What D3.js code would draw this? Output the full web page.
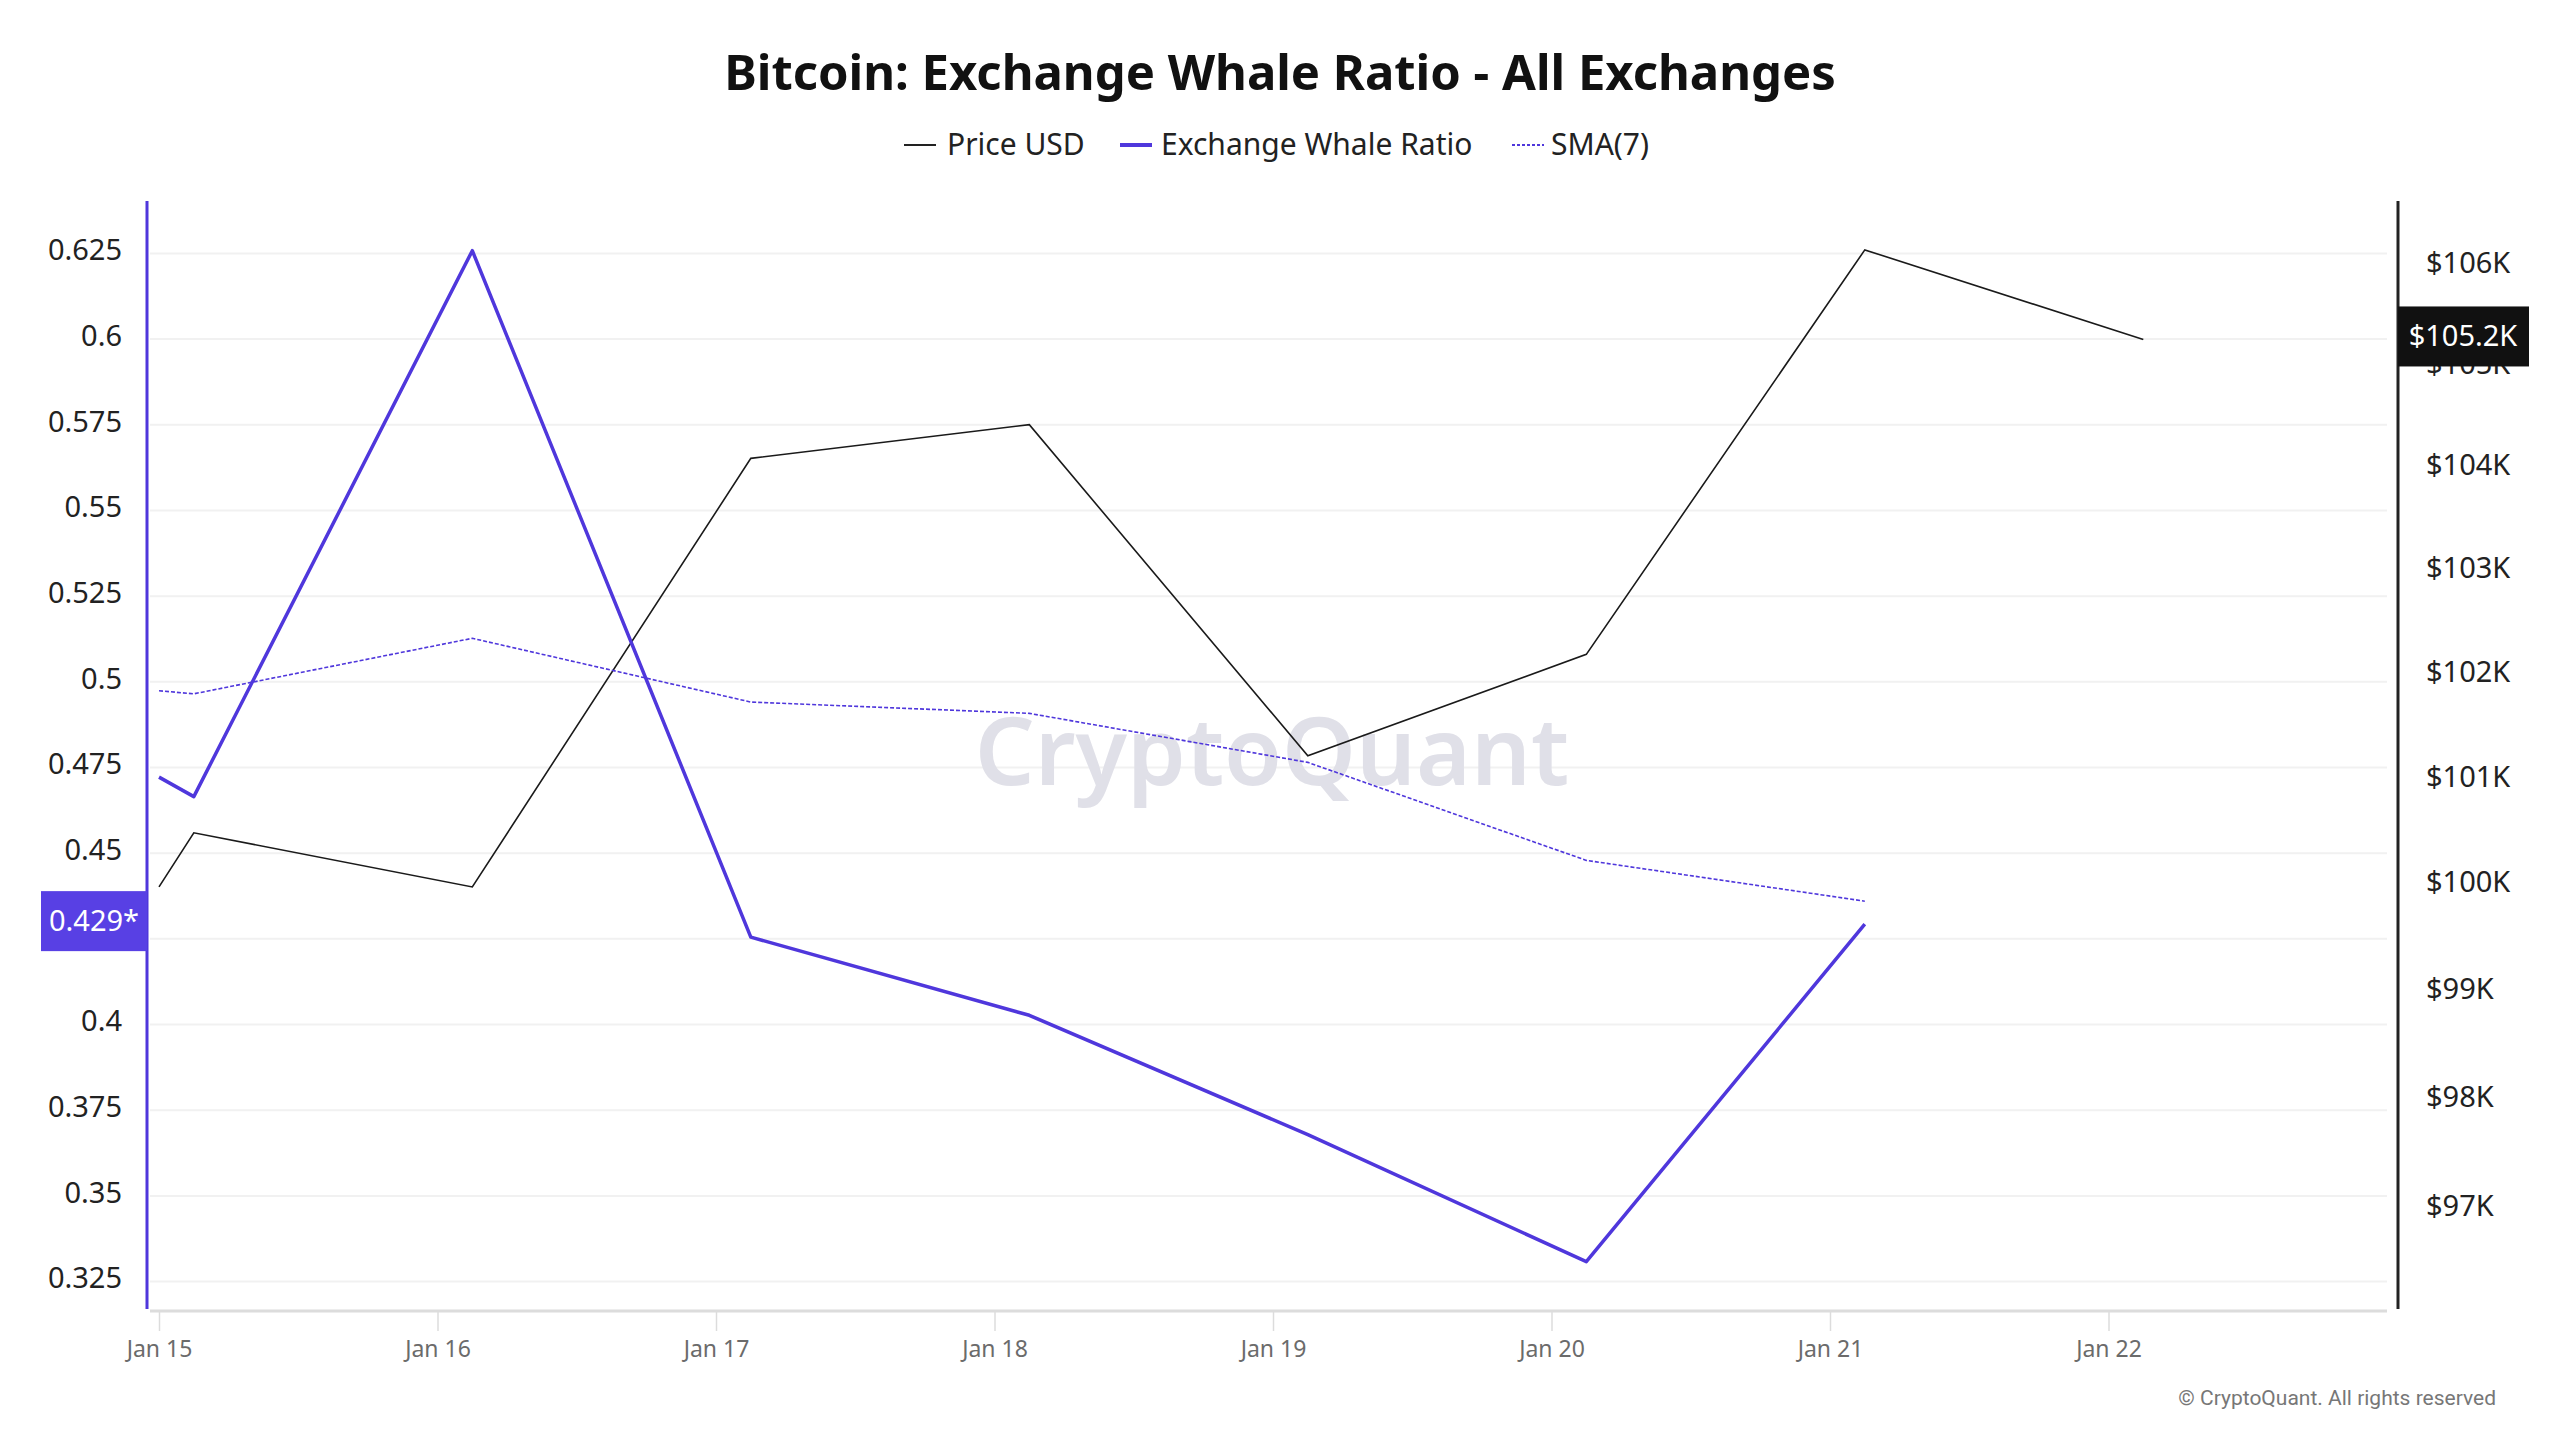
<!DOCTYPE html>
<html>
<head>
<meta charset="utf-8">
<script src="https://cdn.jsdelivr.net/npm/d3@7/dist/d3.min.js"></script>
<style>
  html, body { margin: 0; padding: 0; background: #ffffff; }
  svg { display: block; }
</style>
</head>
<body>
<script>
// ---- Data ----
const ratioDates = ["2025-01-15T00:00Z","2025-01-15T03:00Z","2025-01-16T03:00Z","2025-01-17T03:00Z","2025-01-18T03:00Z","2025-01-19T03:00Z","2025-01-20T03:00Z","2025-01-21T03:00Z"];
const whaleRatio = [0.4722, 0.4665, 0.6258, 0.4255, 0.4027, 0.3679, 0.3308, 0.4293];
const sma7 = [0.4974, 0.4965, 0.5127, 0.4941, 0.4908, 0.4765, 0.4479, 0.4360];
const priceDates = ["2025-01-15T00:00Z","2025-01-15T03:00Z","2025-01-16T03:00Z","2025-01-17T03:00Z","2025-01-18T03:00Z","2025-01-19T03:00Z","2025-01-20T03:00Z","2025-01-21T03:00Z","2025-01-22T03:00Z"];
const priceUSD = [99960, 100470, 99960, 104070, 104400, 101200, 102170, 106130, 105240];
const leftTicks = [0.325, 0.35, 0.375, 0.4, 0.425, 0.45, 0.475, 0.5, 0.525, 0.55, 0.575, 0.6, 0.625];
const leftTickLabels = ["0.325","0.35","0.375","0.4","","0.45","0.475","0.5","0.525","0.55","0.575","0.6","0.625"];
const rightTicks = [97000, 98000, 99000, 100000, 101000, 102000, 103000, 104000, 105000, 106000];
const rightTickLabels = ["$97K","$98K","$99K","$100K","$101K","$102K","$103K","$104K","$105K","$106K"];
const xTickDates = ["2025-01-15T00:00Z","2025-01-16T00:00Z","2025-01-17T00:00Z","2025-01-18T00:00Z","2025-01-19T00:00Z","2025-01-20T00:00Z","2025-01-21T00:00Z","2025-01-22T00:00Z"];
const xTickLabels = ["Jan 15","Jan 16","Jan 17","Jan 18","Jan 19","Jan 20","Jan 21","Jan 22"];
const titleText = "Bitcoin: Exchange Whale Ratio - All Exchanges";
const legendLabels = ["Price USD", "Exchange Whale Ratio", "SMA(7)"];
const lastRatioLabel = "0.429*";
const lastPriceLabel = "$105.2K";

// ---- Layout ----
const W = 2560, H = 1440;
const plot = { left: 150, right: 2387, top: 201, bottom: 1309 };
const PURPLE = "#4f37dc";
const BOX_PURPLE = "#5840e4";
const FONT = "'Noto Sans', 'Open Sans', sans-serif";

const svg = d3.select("body").append("svg").attr("width", W).attr("height", H);

const parse = d3.isoParse;
const x = d3.scaleUtc()
  .domain([parse("2025-01-15T00:00Z"), parse("2025-01-23T00:00Z")])
  .range([159, plot.right]);
const yL = d3.scaleLinear().domain([0.3170, 0.6403]).range([plot.bottom, plot.top]);
const yR = d3.scaleLog().domain([96071, 106619]).range([plot.bottom, plot.top]);

// Title
svg.append("text")
  .attr("x", W / 2).attr("y", 90)
  .attr("text-anchor", "middle")
  .attr("font-family", FONT).attr("font-weight", 700).attr("font-size", 49)
  .attr("fill", "#111").text(titleText);

// Legend
const legend = svg.append("g").attr("font-family", FONT).attr("font-size", 30).attr("fill", "#222");
const legendItems = [
  { lx: 904, tx: 947, stroke: "#222", w: 2, dash: null },
  { lx: 1120, tx: 1161, stroke: PURPLE, w: 4, dash: null },
  { lx: 1512, tx: 1551, stroke: PURPLE, w: 2, dash: "3,2" }
];
legendItems.forEach((it, i) => {
  legend.append("line").attr("x1", it.lx).attr("x2", it.lx + 32).attr("y1", 145).attr("y2", 145)
    .attr("stroke", it.stroke).attr("stroke-width", it.w).attr("stroke-dasharray", it.dash);
  legend.append("text").attr("x", it.tx).attr("y", 155).text(legendLabels[i]);
});

// Gridlines
svg.append("g").selectAll("line").data(leftTicks).join("line")
  .attr("x1", plot.left).attr("x2", plot.right)
  .attr("y1", d => yL(d)).attr("y2", d => yL(d))
  .attr("stroke", "#f1f1f1").attr("stroke-width", 2);

// Watermark
svg.append("text")
  .attr("x", 1272).attr("y", 785).attr("text-anchor", "middle")
  .attr("font-family", FONT).attr("font-weight", 600).attr("font-size", 94)
  .attr("fill", "#e0e0e8").text("CryptoQuant");

// X axis
const xAxis = d3.axisBottom(x)
  .tickValues(xTickDates.map(parse))
  .tickFormat((d, i) => xTickLabels[i])
  .tickSize(20).tickPadding(10).tickSizeOuter(0);
const gx = svg.append("g").attr("transform", `translate(0,${plot.bottom + 2})`).call(xAxis);
gx.select(".domain").attr("d", `M${plot.left},0H${plot.right}`).attr("stroke", "#dcdcdc").attr("stroke-width", 3);
gx.selectAll(".tick line").attr("stroke", "#dcdcdc").attr("stroke-width", 1.5);
gx.selectAll(".tick text").attr("font-family", FONT).attr("font-size", 23).attr("fill", "#6b6b6b");

// Left axis
const leftAxis = d3.axisLeft(yL).tickValues(leftTicks)
  .tickFormat((d, i) => leftTickLabels[i]).tickSize(0).tickPadding(25);
const gl = svg.append("g").attr("transform", `translate(147,0)`).call(leftAxis);
gl.select(".domain").attr("d", `M0,${plot.top}V${plot.bottom}`).attr("stroke", PURPLE).attr("stroke-width", 3);
gl.selectAll(".tick text").attr("font-family", FONT).attr("font-size", 29).attr("fill", "#222").attr("dy", "0.22em");

// Right axis (log scale)
const rightAxis = d3.axisRight(yR).tickValues(rightTicks)
  .tickFormat((d, i) => rightTickLabels[i]).tickSize(0).tickPadding(28);
const gr = svg.append("g").attr("transform", `translate(2398,0)`).call(rightAxis);
gr.select(".domain").attr("d", `M0,${plot.top}V${plot.bottom}`).attr("stroke", "#222").attr("stroke-width", 3);
gr.selectAll(".tick text").attr("font-family", FONT).attr("font-size", 29).attr("fill", "#222");

// Lines
const ratioPts = ratioDates.map((d, i) => ({ t: parse(d), r: whaleRatio[i], s: sma7[i] }));
const pricePts = priceDates.map((d, i) => ({ t: parse(d), p: priceUSD[i] }));

svg.append("path").datum(pricePts)
  .attr("fill", "none").attr("stroke", "#1a1a1a").attr("stroke-width", 1.6)
  .attr("d", d3.line().x(d => x(d.t)).y(d => yR(d.p)));

svg.append("path").datum(ratioPts)
  .attr("fill", "none").attr("stroke", PURPLE).attr("stroke-width", 1.6).attr("stroke-dasharray", "4,2")
  .attr("d", d3.line().x(d => x(d.t)).y(d => yL(d.s)));

svg.append("path").datum(ratioPts)
  .attr("fill", "none").attr("stroke", PURPLE).attr("stroke-width", 3.5).attr("stroke-linejoin", "round")
  .attr("d", d3.line().x(d => x(d.t)).y(d => yL(d.r)));

// Last-value boxes
const lastR = whaleRatio[whaleRatio.length - 1];
const lyc = yL(lastR) - 3;
svg.append("rect").attr("x", 41).attr("y", lyc - 30).attr("width", 106).attr("height", 60).attr("fill", BOX_PURPLE);
svg.append("text").attr("x", 94).attr("y", lyc + 10).attr("text-anchor", "middle")
  .attr("font-family", FONT).attr("font-size", 29).attr("fill", "#fff").text(lastRatioLabel);

const lastP = priceUSD[priceUSD.length - 1];
const pyc = yR(lastP) - 3;
svg.append("rect").attr("x", 2398).attr("y", pyc - 30).attr("width", 131).attr("height", 60).attr("fill", "#111");
svg.append("text").attr("x", 2463).attr("y", pyc + 10).attr("text-anchor", "middle")
  .attr("font-family", FONT).attr("font-size", 29).attr("fill", "#fff").text(lastPriceLabel);

// Copyright
svg.append("text").attr("x", 2496).attr("y", 1405).attr("text-anchor", "end")
  .attr("font-family", "Roboto, sans-serif").attr("font-size", 21).attr("fill", "#777")
  .text("\u00A9 CryptoQuant. All rights reserved");
</script>
</body>
</html>
